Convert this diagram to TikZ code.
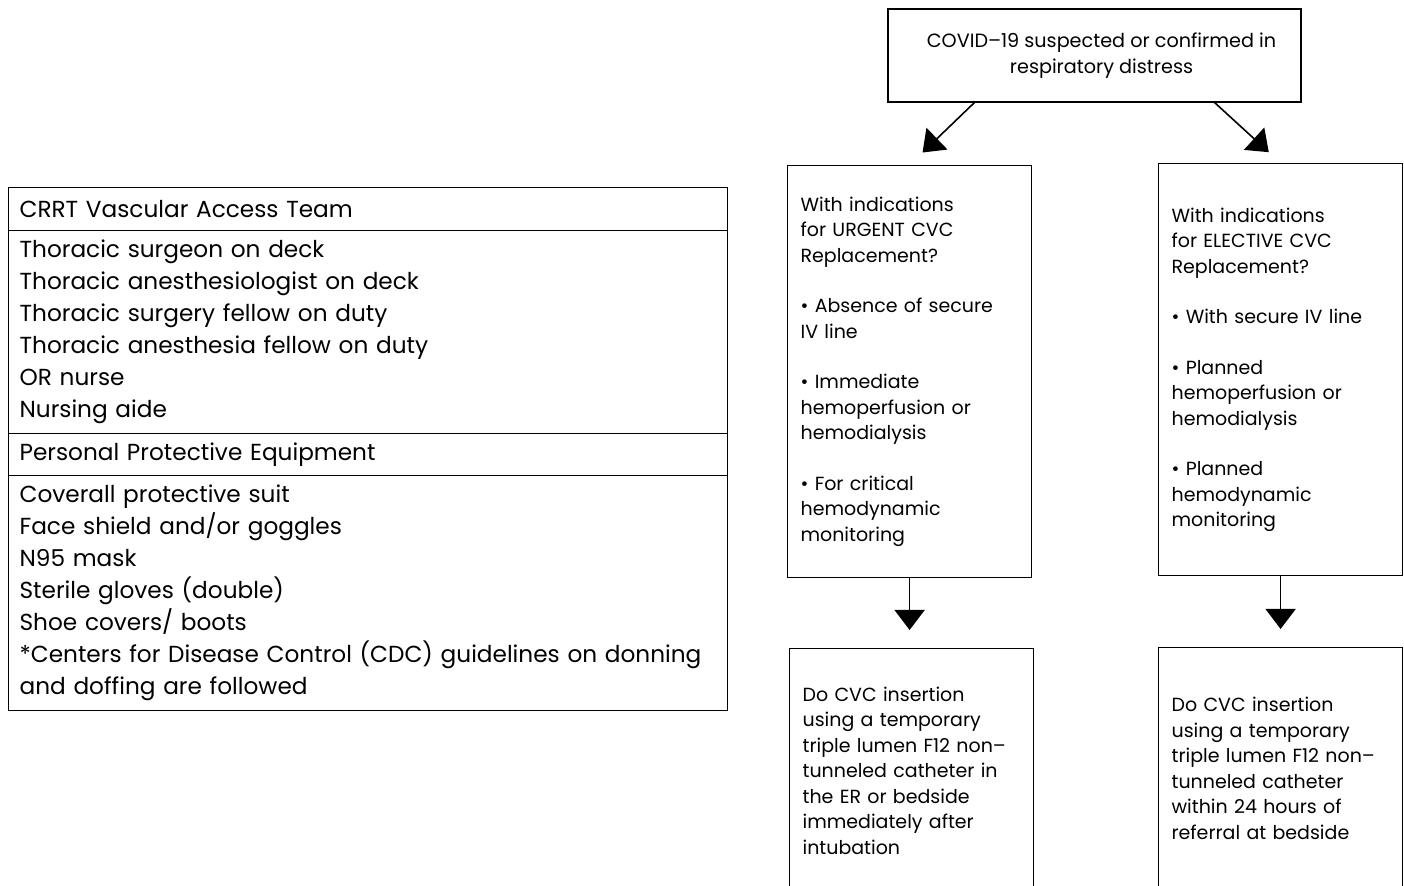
\documentclass[tikz,border=0pt]{standalone}
\usepackage{fontspec}
\setmainfont{Poppins}
\usetikzlibrary{arrows.meta,calc}

\begin{document}
\begin{tikzpicture}[x=0.5pt,y=-0.5pt,>={Triangle[width=15pt,length=10pt]},thick]
	\tikzstyle{every node}=[font=\fontsize{9.5}{12.75}\selectfont]
	\tikzstyle{flowbox}=[draw=black,semithick,align=left,inner xsep=6.5pt,inner ysep=0pt,text width=109pt,anchor=north west]
	\tikzstyle{teambox}=[draw=black,semithick,align=left,inner xsep=5.5pt,inner ysep=0pt,text width=348.5pt,anchor=north west,font=\fontsize{11.6}{16}\selectfont]
	
	\useasboundingbox (0,0) rectangle (1404,886);
	\clip (0,0) rectangle (1404,886);
	
	% left table
	\node[teambox,minimum height=21.5pt] (team) at (8,187) {CRRT Vascular Access Team};
	\node[teambox,minimum height=101.5pt] (teamlist) at (8,230) {Thoracic surgeon on deck\\
		Thoracic anesthesiologist on deck\\
		Thoracic surgery fellow on duty\\
		Thoracic anesthesia fellow on duty\\
		OR nurse\\
		Nursing aide};
	\node[teambox,minimum height=21pt] (ppe) at (8,433) {Personal Protective Equipment};
	\node[teambox,minimum height=117.5pt] (ppelist) at (8,475) {Coverall protective suit\\
		Face shield and/or goggles\\
		N95 mask\\
		Sterile gloves (double)\\
		Shoe covers/ boots\\
		\mbox{*}Centers for Disease Control (CDC) guidelines on donning\\
		and doffing are followed};
	
	% flow chart
	\node[draw=black,semithick,align=center,minimum width=206.5pt,minimum height=46.5pt,font=\fontsize{9.6}{12.75}\selectfont] (covid) at (1094.5,55.5) {\hspace*{7pt}COVID–19 suspected or confirmed in\\\hspace*{7pt}respiratory distress};
	\node[flowbox,minimum height=206pt] (urgent) at (787,165) {With indications\\
		for URGENT CVC\\
		Replacement?\\[12.5pt]
		• Absence of secure\\
		IV line\\[12.5pt]
		• Immediate\\
		hemoperfusion or\\
		hemodialysis\\[12.5pt]
		• For critical\\
		hemodynamic\\
		monitoring};
	\node[flowbox,minimum height=206pt] (elective) at (1158,163) {With indications\\
		for ELECTIVE CVC\\
		Replacement?\\[12.5pt]
		• With secure IV line\\[12.5pt]
		• Planned\\
		hemoperfusion or\\
		hemodialysis\\[12.5pt]
		• Planned\\
		hemodynamic\\
		monitoring};
	\node[flowbox,minimum height=122pt] (urgentdo) at (789,648) {Do CVC insertion\\
		using a temporary\\
		triple lumen F12 non–\\
		tunneled catheter in\\
		the ER or bedside\\
		immediately after\\
		intubation};
	\node[flowbox,minimum height=121pt] (electivedo) at (1158,647) {Do CVC insertion\\
		using a temporary\\
		triple lumen F12 non–\\
		tunneled catheter\\
		within 24 hours of\\
		referral at bedside};
	
	\draw[->,shorten >=9pt] ($(covid.south west)!0.21!(covid.south east)$) -- (urgent.north);
	\draw[->,shorten >=8pt] ($(covid.south west)!0.79!(covid.south east)$) -- (elective.north);
	\draw[->,shorten >=9pt] (urgent.south) -- (urgent.south |- urgentdo.north);
	\draw[->,shorten >=9pt] (elective.south) -- (elective.south |- electivedo.north);
\end{tikzpicture}
\end{document}
